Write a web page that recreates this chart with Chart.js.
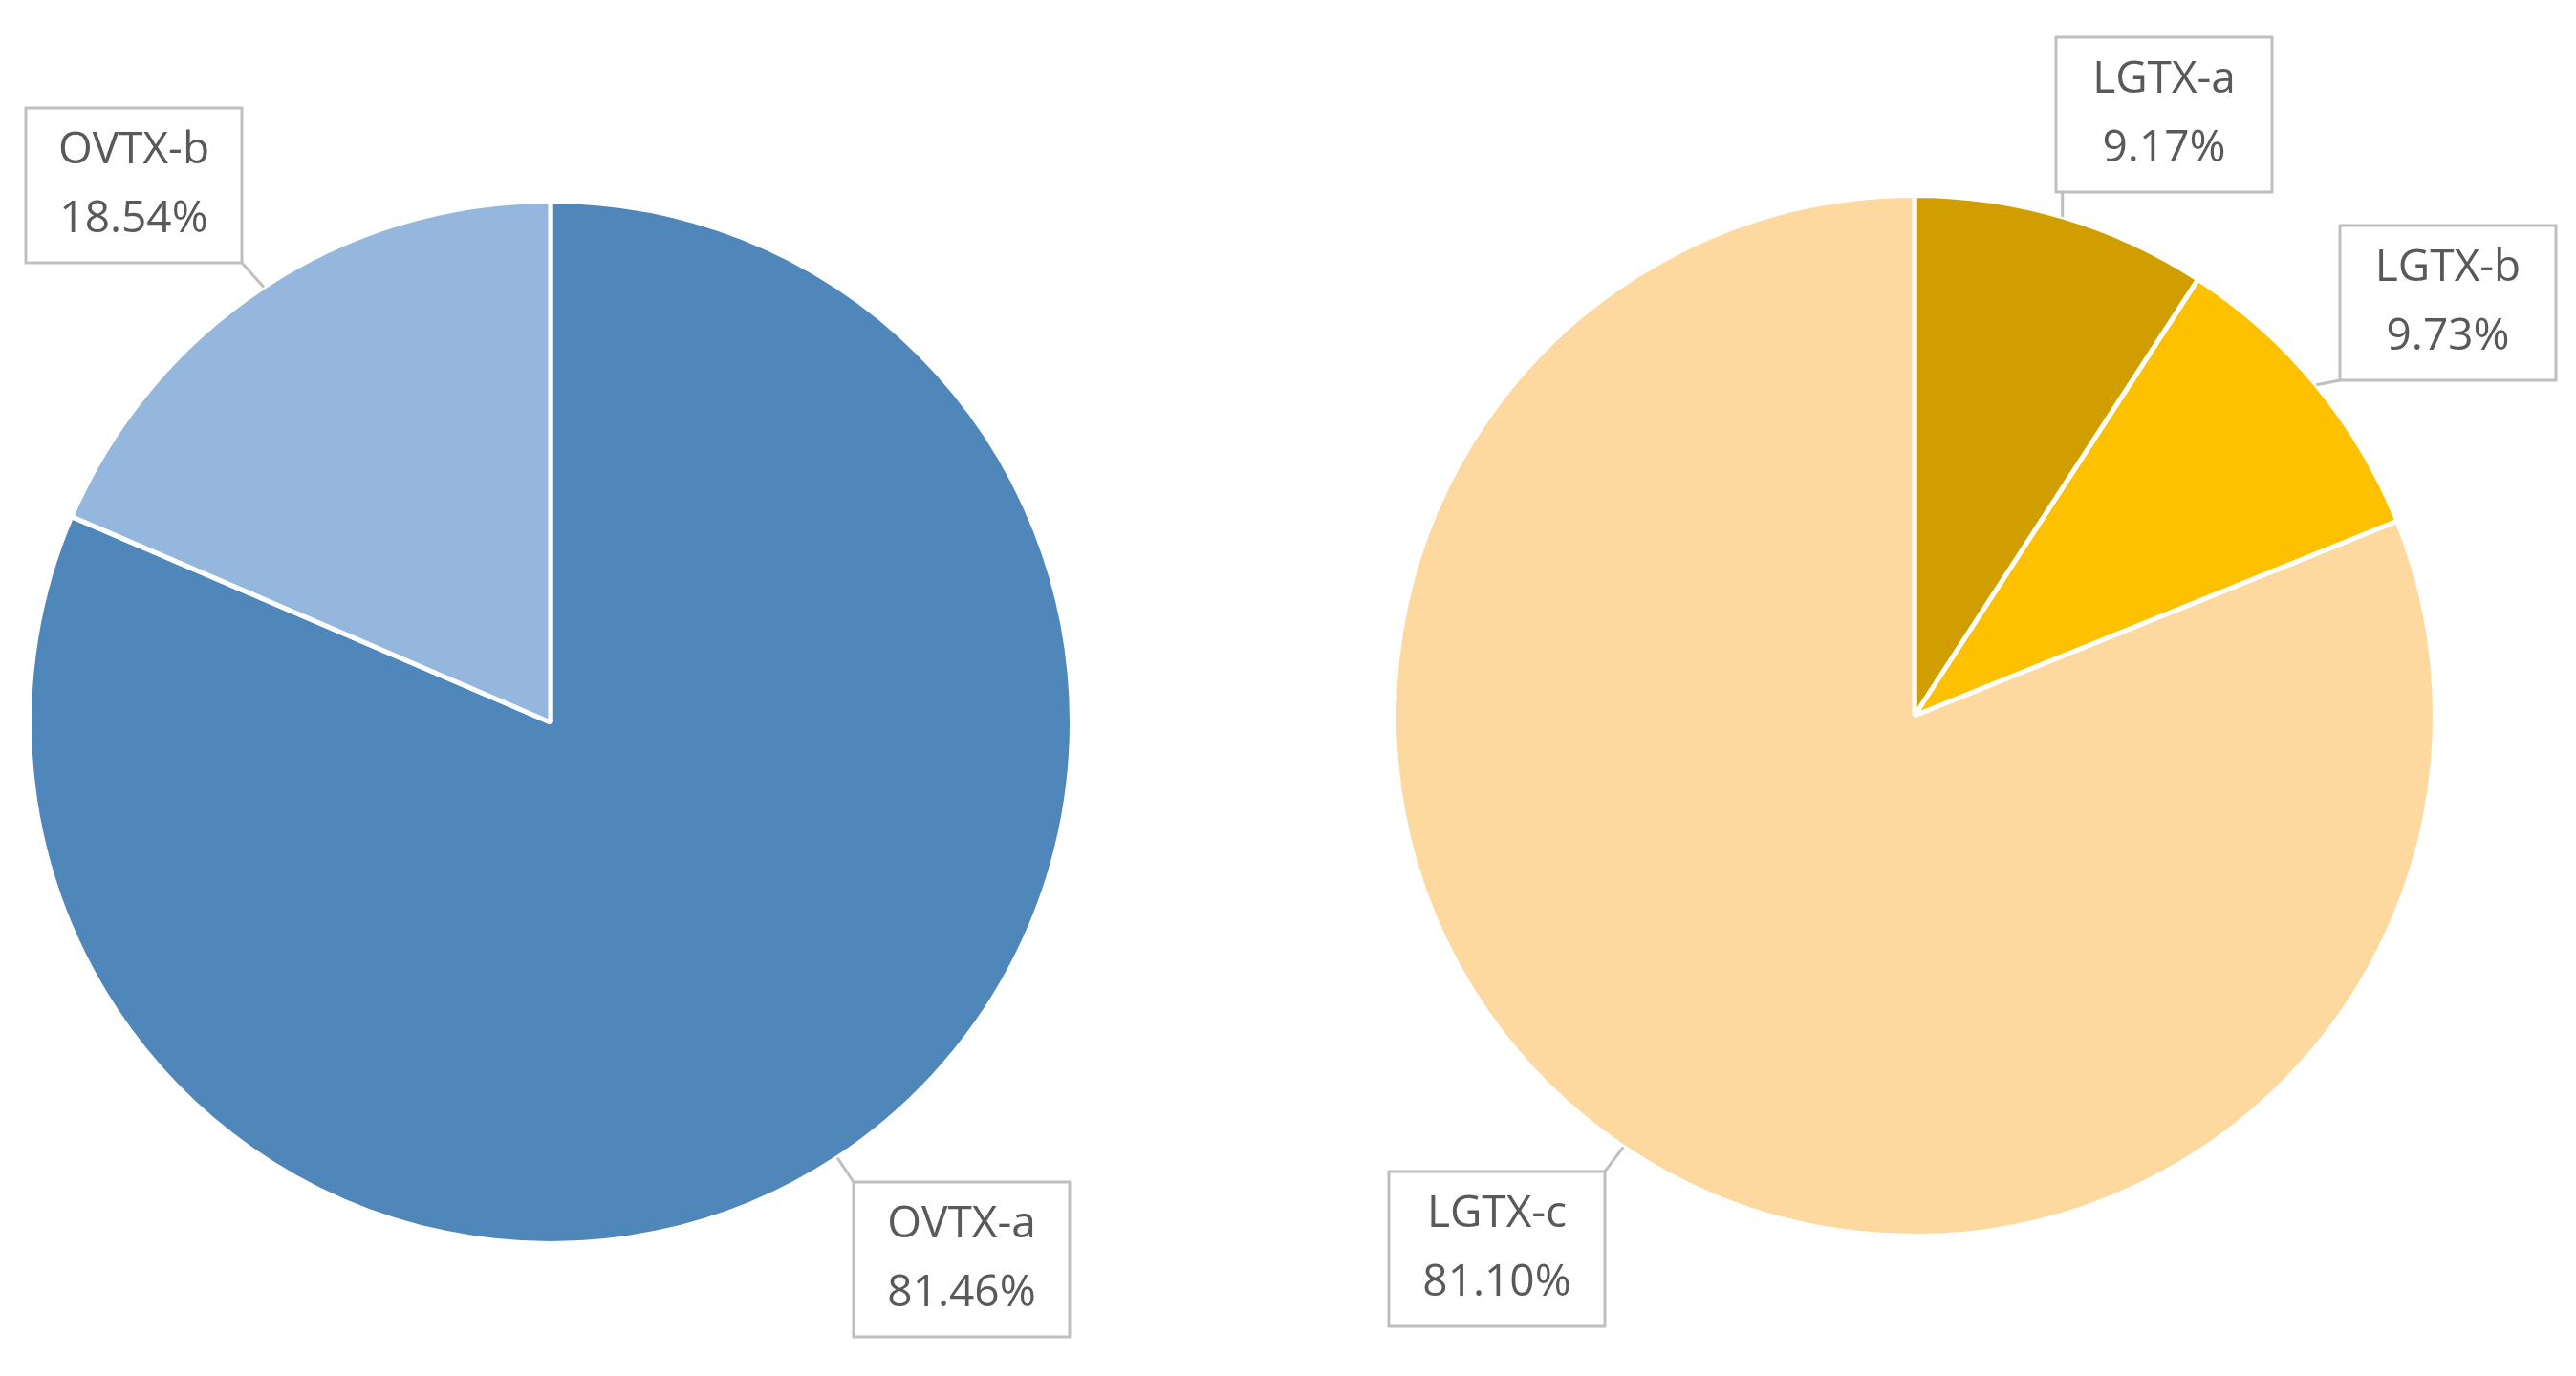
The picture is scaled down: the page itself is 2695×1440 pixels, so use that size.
<!DOCTYPE html>
<html><head><meta charset="utf-8">
<script src="https://cdn.jsdelivr.net/npm/chart.js@4/dist/chart.umd.min.js"></script>
<style>html,body{margin:0;background:#fff;overflow:hidden}canvas{position:absolute;left:0;top:0}</style>
</head><body>
<canvas id="c1" width="2695" height="1440"></canvas>
<canvas id="c2" width="2695" height="1440"></canvas>
<script>
const ovtxLabels = ['OVTX-a', 'OVTX-b'];
const ovtxValues = [81.46, 18.54];
const lgtxLabels = ['LGTX-a', 'LGTX-b', 'LGTX-c'];
const lgtxValues = [9.17, 9.73, 81.10];

const calloutPlugin = {
  id: 'callouts',
  afterDraw(chart, args, opts) {
    const ctx = chart.ctx;
    const meta = chart.getDatasetMeta(0);
    const ds = chart.data.datasets[0];
    ctx.save();
    meta.data.forEach((arc, i) => {
      const b = opts.boxes[i];
      const mid = (arc.startAngle + arc.endAngle) / 2;
      const ax = arc.x + Math.cos(mid) * arc.outerRadius;
      const ay = arc.y + Math.sin(mid) * arc.outerRadius;
      const w = 226, h = 162;
      const x0 = b[0] - w / 2, y0 = b[1] - h / 2;
      const px = Math.max(x0, Math.min(x0 + w, ax));
      const py = Math.max(y0, Math.min(y0 + h, ay));
      ctx.strokeStyle = '#BFBFBF';
      ctx.lineWidth = 3;
      ctx.beginPath(); ctx.moveTo(ax, ay); ctx.lineTo(px, py); ctx.stroke();
      ctx.fillStyle = '#fff';
      ctx.fillRect(x0, y0, w, h);
      ctx.strokeRect(x0, y0, w, h);
      ctx.fillStyle = '#595959';
      ctx.font = '46px "Open Sans", sans-serif';
      ctx.textAlign = 'center';
      ctx.textBaseline = 'middle';
      ctx.fillText(chart.data.labels[i], b[0], b[1] - 36);
      ctx.fillText(ds.data[i].toFixed(2) + '%', b[0], b[1] + 36);
    });
    ctx.restore();
  }
};

function makePie(id, labels, values, colors, padding, boxes) {
  new Chart(document.getElementById(id), {
    type: 'pie',
    data: { labels, datasets: [{ data: values, backgroundColor: colors, borderColor: '#fff', borderWidth: 5 }] },
    options: {
      responsive: false, animation: false,
      layout: { padding },
      plugins: { legend: { display: false }, tooltip: { enabled: false }, callouts: { boxes } }
    },
    plugins: [calloutPlugin]
  });
}

makePie('c1', ovtxLabels, ovtxValues, ['#4F87BA', '#95B7DE'],
  { left: 28, right: 1571, top: 208, bottom: 136 },
  [[1006, 1318], [140, 194]]);
makePie('c2', lgtxLabels, lgtxValues, ['#D19E00', '#FDC100', '#FDD9A0'],
  { left: 1456, right: 145, top: 201, bottom: 143 },
  [[2264, 120], [2561, 317], [1566, 1307]]);
</script>
</body></html>
